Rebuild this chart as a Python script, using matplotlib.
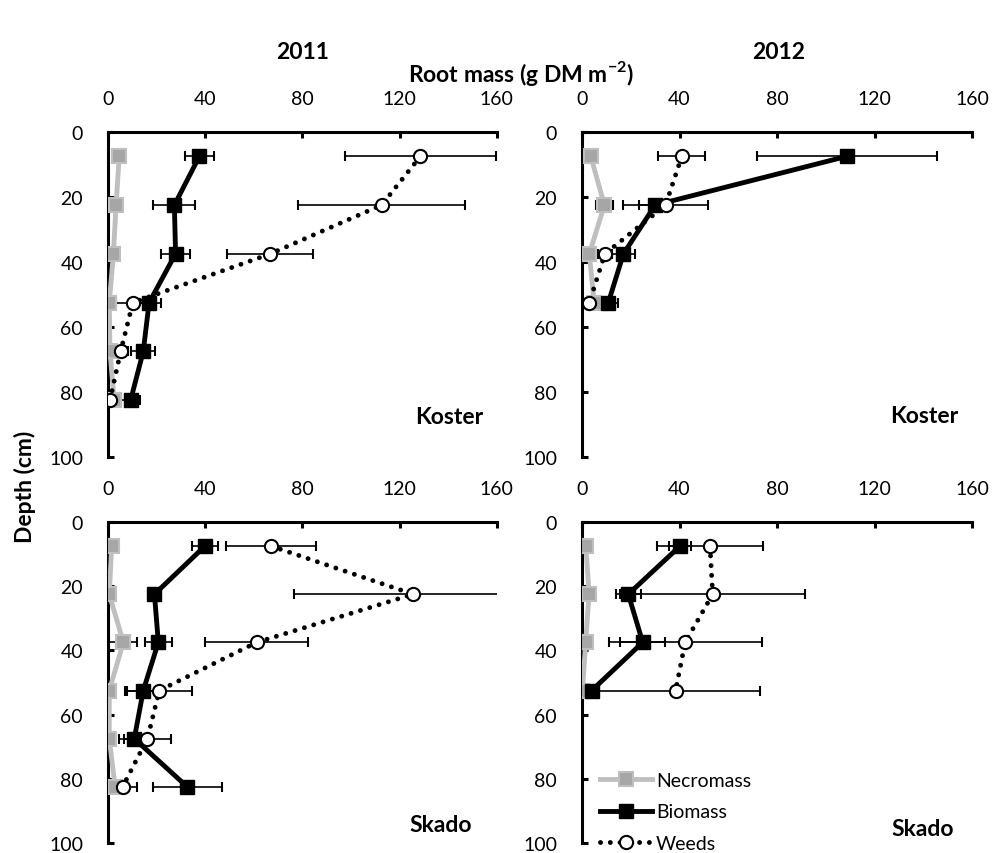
import numpy as np
import matplotlib.pyplot as plt
from matplotlib.lines import Line2D

plt.rcParams['font.family'] = ['Lato', 'DejaVu Sans']
plt.rcParams['mathtext.fontset'] = 'custom'
plt.rcParams['mathtext.rm'] = 'Lato'
plt.rcParams['mathtext.bf'] = 'Lato:bold'

# depths of the sampling layers (cm)
depth6 = [7.5, 22.5, 37.5, 52.5, 67.5, 82.5]
depth4 = [7.5, 22.5, 37.5, 52.5]

# Koster 2011
k11_necro = [4.6, 3.3, 2.2, 0.5, 0.8, 2.5]
k11_necro_err = [1.0, 0.8, 0.8, 0.5, 0.5, 0.5]
k11_bio = [37.6, 27.3, 27.8, 16.9, 14.5, 9.3]
k11_bio_err = [6.0, 8.6, 5.8, 4.8, 5.0, 4.0]
k11_weeds = [128.6, 112.6, 66.8, 10.2, 5.2, 0.8]
k11_weeds_err = [31.2, 34.4, 17.7, 7.0, 3.0, 1.0]

# Koster 2012
k12_necro = [3.6, 9.2, 3.0, 5.0]
k12_necro_err = [0.8, 3.6, 0.8, 0.8]
k12_bio = [108.6, 30.0, 17.0, 10.8]
k12_bio_err = [36.8, 6.5, 4.7, 4.0]
k12_weeds = [40.9, 34.3, 9.4, 3.0]
k12_weeds_err = [9.6, 17.5, 3.0, 1.0]

# Skado 2011
s11_necro = [1.5, 0.5, 6.3, 0.5, 0.5, 2.9]
s11_necro_err = [0.5, 0.5, 5.8, 0.5, 0.5, 1.0]
s11_bio = [39.9, 19.1, 20.7, 14.5, 10.8, 32.6]
s11_bio_err = [5.5, 1.0, 5.5, 7.5, 6.2, 14.3]
s11_weeds = [67.1, 125.6, 61.2, 21.1, 16.2, 6.0]
s11_weeds_err = [18.6, 49.0, 21.2, 13.3, 9.7, 5.8]

# Skado 2012
s12_necro = [1.6, 2.9, 1.5, 0.2]
s12_necro_err = [0.5, 1.5, 0.5, 0.5]
s12_bio = [40.2, 19.0, 24.9, 4.0]
s12_bio_err = [4.5, 5.0, 9.3, 1.0]
s12_weeds = [52.5, 53.6, 42.3, 38.4]
s12_weeds_err = [21.9, 38.0, 31.4, 34.6]

xticks = [0, 40, 80, 120, 160]
yticks = [0, 20, 40, 60, 80, 100]

grey_line = '#bfbfbf'
grey_face = '#a6a6a6'

necro_style = dict(color=grey_line, lw=3.5, marker='s', ms=10, mfc=grey_face, mec=grey_line, mew=1.5, zorder=3)
bio_style = dict(color='black', lw=3.5, marker='s', ms=10, mfc='black', mec='black', zorder=4)
weeds_style = dict(color='black', lw=3.5, ls=(0, (0.01, 2.0)), dash_capstyle='round', marker='o', ms=9.5,
                   mfc='white', mec='black', mew=1.5, zorder=5)
err_style = dict(fmt='none', ecolor='black', elinewidth=1.2, capsize=3.5, capthick=1.5, zorder=2)

fig = plt.figure(figsize=(9.94, 8.54), dpi=100)

panels = [
    ([0.1087, 0.4637, 0.391, 0.3806], depth6, k11_necro, k11_necro_err, k11_bio, k11_bio_err, k11_weeds, k11_weeds_err, 'Koster', (0.878, 0.126)),
    ([0.5855, 0.4637, 0.3925, 0.3806], depth4, k12_necro, k12_necro_err, k12_bio, k12_bio_err, k12_weeds, k12_weeds_err, 'Koster', (0.877, 0.128)),
    ([0.1087, 0.0117, 0.391, 0.3759], depth6, s11_necro, s11_necro_err, s11_bio, s11_bio_err, s11_weeds, s11_weeds_err, 'Skado', (0.857, 0.057)),
    ([0.5855, 0.0117, 0.3925, 0.3759], depth4, s12_necro, s12_necro_err, s12_bio, s12_bio_err, s12_weeds, s12_weeds_err, 'Skado', (0.872, 0.045)),
]

axes = []
for rect, d, nec, nec_e, bio, bio_e, wd, wd_e, site, pos in panels:
    ax = fig.add_axes(rect)
    ax.errorbar(nec, d, xerr=nec_e, **err_style)
    ax.errorbar(bio, d, xerr=bio_e, **err_style)
    ax.errorbar(wd, d, xerr=wd_e, **err_style)
    ax.plot(nec, d, **necro_style)
    ax.plot(bio, d, **bio_style)
    ax.plot(wd, d, **weeds_style)
    ax.set_xlim(0, 160)
    ax.set_ylim(100, 0)
    ax.set_xticks(xticks)
    ax.set_yticks(yticks)
    ax.xaxis.tick_top()
    for s in ['right', 'bottom']:
        ax.spines[s].set_visible(False)
    for s in ['left', 'top']:
        ax.spines[s].set_linewidth(2.2)
    ax.tick_params(axis='both', direction='in', length=4.5, width=2.2, labelsize=14, pad=18)
    ax.text(pos[0], pos[1], site, transform=ax.transAxes, ha='center', va='center',
            fontsize=16.5, fontweight='bold')
    axes.append(ax)

fig.text(0.304, 0.939, '2011', ha='center', va='center', fontsize=16.5, fontweight='bold')
fig.text(0.783, 0.939, '2012', ha='center', va='center', fontsize=16.5, fontweight='bold')
fig.text(0.524, 0.914, 'Root mass (g DM m$^{\\mathbf{-2}}$)', ha='center', va='center', fontsize=16.5, fontweight='bold')
fig.text(0.025, 0.43, 'Depth (cm)', ha='center', va='center', rotation=90, fontsize=16.5, fontweight='bold')

handles = [
    Line2D([], [], **necro_style),
    Line2D([], [], **bio_style),
    Line2D([], [], **weeds_style),
]
axes[3].legend(handles, ['Necromass', 'Biomass', 'Weeds'], loc='center left', bbox_to_anchor=(0.045, 0.097),
               frameon=False, fontsize=14, handlelength=2.7, handletextpad=0.2, labelspacing=0.75,
               borderpad=0, borderaxespad=0)

fig.savefig('out.png', dpi=100)
